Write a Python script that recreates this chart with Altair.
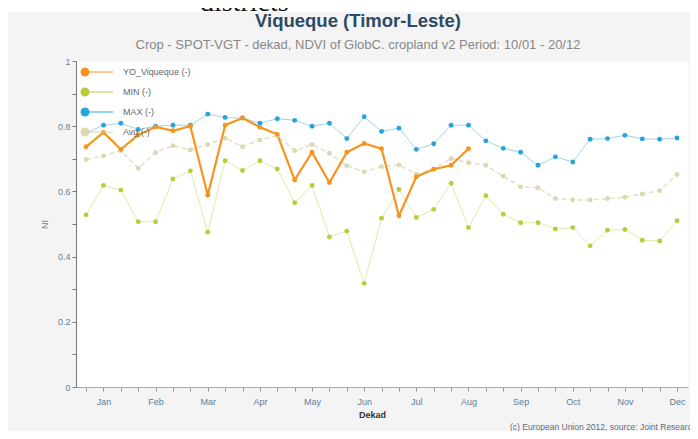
import json
import altair as alt
import pandas as pd

months = ["Jan", "Feb", "Mar", "Apr", "May", "Jun", "Jul", "Aug", "Sep", "Oct", "Nov", "Dec"]
dekads = list(range(35))  # 10/01 .. 20/12

yo_viqueque = [0.737, 0.781, 0.729, 0.773, 0.798, 0.786, 0.800, 0.588, 0.803, 0.825,
               0.797, 0.775, 0.635, 0.720, 0.627, 0.720, 0.747, 0.731, 0.525, 0.645,
               0.668, 0.680, 0.731]
min_vals = [0.528, 0.618, 0.604, 0.507, 0.507, 0.638, 0.663, 0.475, 0.694, 0.664,
            0.694, 0.669, 0.565, 0.618, 0.460, 0.478, 0.318, 0.518, 0.606, 0.520,
            0.545, 0.625, 0.489, 0.587, 0.530, 0.504, 0.504, 0.485, 0.489, 0.433,
            0.481, 0.483, 0.450, 0.448, 0.510]
max_vals = [0.779, 0.803, 0.809, 0.790, 0.800, 0.803, 0.803, 0.837, 0.827, 0.825,
            0.809, 0.823, 0.818, 0.800, 0.809, 0.762, 0.829, 0.784, 0.794, 0.729,
            0.746, 0.803, 0.803, 0.755, 0.732, 0.720, 0.680, 0.706, 0.690, 0.760,
            0.762, 0.772, 0.761, 0.760, 0.764]
avg_vals = [0.698, 0.709, 0.725, 0.671, 0.719, 0.740, 0.727, 0.744, 0.763, 0.737,
            0.758, 0.771, 0.725, 0.744, 0.717, 0.679, 0.660, 0.676, 0.681, 0.653,
            0.669, 0.701, 0.688, 0.680, 0.647, 0.614, 0.611, 0.578, 0.574, 0.574,
            0.578, 0.582, 0.592, 0.602, 0.652]

series_names = ["YO_Viqueque (-)", "MIN (-)", "MAX (-)", "Avg (-)"]
point_colors = ["#f7941e", "#bccb3c", "#28a4dd", "#dcd8b0"]
line_colors = ["#f7941e", "#dfe79e", "#95cfeb", "#e4e0c0"]
line_widths = [2.2, 1.0, 1.0, 1.5]
line_dashes = [[1, 0], [1, 0], [1, 0], [5, 3]]

title_text = "Viqueque (Timor-Leste)"
subtitle_text = "Crop - SPOT-VGT - dekad, NDVI of GlobC. cropland v2  Period: 10/01 - 20/12"
credits_text = "(c) European Union 2012, source: Joint Research Centre"
top_text = "districts"

values_by_series = {
    series_names[0]: yo_viqueque,
    series_names[1]: min_vals,
    series_names[2]: max_vals,
    series_names[3]: avg_vals,
}
draw_order = [3, 1, 2, 0]
rows = []
for i in draw_order:
    name = series_names[i]
    for d, v in zip(dekads, values_by_series[name]):
        rows.append({"dekad": d, "value": v, "series": name})
df = pd.DataFrame(rows)

FONT = "Liberation Sans"
month_expr = json.dumps(months)

x_enc = alt.X(
    "dekad:Q",
    scale=alt.Scale(domain=[-0.58, 34.63], nice=False, zero=False),
    axis=alt.Axis(
        values=dekads,
        labelExpr=f"datum.value % 3 == 1 ? {month_expr}[floor(datum.value / 3)] : ''",
        labelOverlap=False, labelFlush=False, labelFont=FONT, labelFontSize=9,
        labelColor="#5d7d9a", labelPadding=6, tickSize=4, tickColor="#999",
        domainColor="#aaa", grid=False, title="Dekad", titleFont=FONT,
        titleFontSize=9, titleColor="#333", titleFontWeight="bold", titlePadding=4,
        titleX=296,
    ),
)
y_enc = alt.Y(
    "value:Q",
    scale=alt.Scale(domain=[0, 1], nice=False),
    axis=alt.Axis(
        values=[round(v * 0.1, 1) for v in range(11)],
        labelExpr="round(datum.value * 10) % 2 == 0 ? format(datum.value, '~g') : ''",
        labelFont=FONT, labelFontSize=9, labelColor="#6a7f90", tickSize=4,
        tickColor="#777", domainColor="#777", grid=False, title="NI",
        titleFont=FONT, titleFontSize=9, titleColor="#6a7f90",
        titleFontWeight="normal", titlePadding=8,
    ),
)

legend_symbol = ("M-0.9,0 A0.9,0.9 0 1,0 0.9,0 A0.9,0.9 0 1,0 -0.9,0 Z "
                 "M0.9,-0.12 L5.6,-0.12 L5.6,0.12 L0.9,0.12 Z")

layers = []
for i in draw_order:
    name = series_names[i]
    layers.append(
        alt.Chart(df)
        .transform_filter(alt.datum.series == name)
        .mark_line(color=line_colors[i], strokeWidth=line_widths[i],
                   strokeDash=line_dashes[i], strokeJoin="round")
        .encode(x=x_enc, y=y_enc)
    )

points = alt.Chart(df).mark_circle(size=24, opacity=1).encode(
    x=x_enc,
    y=y_enc,
    color=alt.Color(
        "series:N",
        scale=alt.Scale(domain=series_names, range=point_colors),
        legend=alt.Legend(
            title=None, orient="none", legendX=4, legendY=6,
            symbolType=legend_symbol, symbolSize=100, symbolStrokeWidth=0,
            symbolOpacity=1, labelOffset=33, labelFont=FONT, labelFontSize=9,
            labelColor="#666", rowPadding=10, padding=0,
        ),
    ),
)
layers.append(points)


def text_layer(txt, x, y, **style):
    return alt.Chart(pd.DataFrame({"t": [txt]})).mark_text(**style).encode(
        text="t:N", x=alt.value(x), y=alt.value(y)
    )


layers.append(text_layer(credits_text, 434, 366, align="left", baseline="middle",
                         font=FONT, fontSize=8.5, color="#5d6d7d"))
layers.append(text_layer(title_text, 282, -40, align="center", baseline="middle",
                         font=FONT, fontSize=18.5, fontWeight="bold", color="#2c4a63"))
layers.append(text_layer(subtitle_text, 282, -16, align="center", baseline="middle",
                         font=FONT, fontSize=13, color="#888"))

strip = alt.Chart(pd.DataFrame({"t": [top_text]})).mark_rect(color="white").encode(
    x=alt.value(-76), x2=alt.value(630), y=alt.value(-61), y2=alt.value(-49)
)
layers.append(strip)
layers.append(text_layer(top_text, 124, -50, align="left", baseline="alphabetic",
                         font="Liberation Serif", fontSize=28, color="#111"))

chart = alt.layer(*layers).properties(
    width=612,
    height=326,
    padding={"left": 68, "top": 53, "right": 2, "bottom": 44},
    autosize=alt.AutoSizeParams(type="none"),
    background="#f4f4f4",
).configure_view(fill="white", strokeOpacity=0)

chart.save("out.html", embed_options={"renderer": "svg", "actions": False})
